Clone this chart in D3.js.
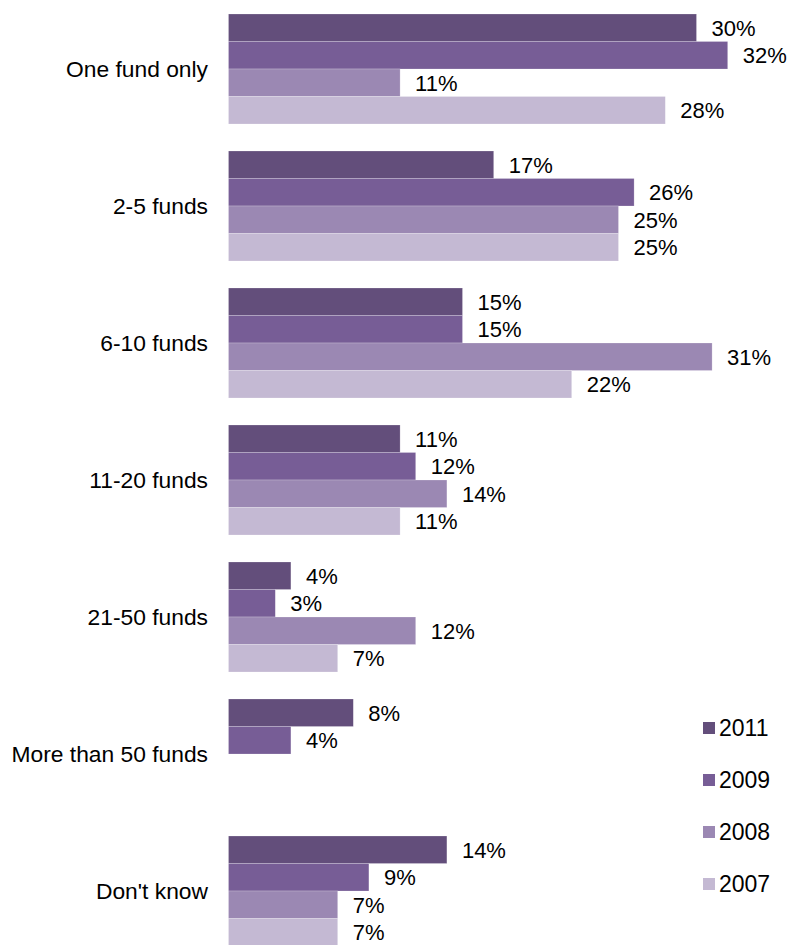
<!DOCTYPE html>
<html>
<head>
<meta charset="utf-8">
<script src="https://cdn.jsdelivr.net/npm/d3@7"></script>
<style>
  html, body { margin: 0; padding: 0; background: #fff; }
  svg { display: block; }
  text { font-family: "Liberation Sans", Arial, sans-serif; fill: #000; }
</style>
</head>
<body>
<svg id="chart" width="789" height="945"></svg>
<script>
// Number of funds held, share of respondents by survey year
const categories = ["One fund only", "2-5 funds", "6-10 funds", "11-20 funds",
                    "21-50 funds", "More than 50 funds", "Don't know"];
const years = ["2011", "2009", "2008", "2007"];
const values2011 = [30, 17, 15, 11, 4, 8, 14];
const values2009 = [32, 26, 15, 12, 3, 4, 9];
const values2008 = [11, 25, 31, 14, 12, null, 7];
const values2007 = [28, 25, 22, 11, 7, null, 7];
const seriesValues = [values2011, values2009, values2008, values2007];
const colors = ["#634e7b", "#775d96", "#9b88b3", "#c4b9d3"];

const svg = d3.select("#chart");

const x = d3.scaleLinear().domain([0, 40]).range([228.5, 852.5]);

const y = d3.scaleBand()
  .domain(categories)
  .range([0.5, 959.5])
  .paddingInner(27 / 137)
  .paddingOuter(13.5 / 137);

const ySub = d3.scaleBand()
  .domain(years)
  .range([0, y.bandwidth()]);

const color = d3.scaleOrdinal().domain(years).range(colors);

// flatten into one record per bar
const rows = [];
categories.forEach((c, i) => {
  years.forEach((yr, j) => {
    const v = seriesValues[j][i];
    if (v !== null) rows.push({ category: c, year: yr, value: v });
  });
});

const g = svg.append("g");

g.selectAll("rect.bar")
  .data(rows)
  .join("rect")
  .attr("class", "bar")
  .attr("x", x(0))
  .attr("y", d => y(d.category) + ySub(d.year))
  .attr("width", d => x(d.value) - x(0))
  .attr("height", ySub.bandwidth())
  .attr("fill", d => color(d.year))
  .attr("stroke", "rgba(255,255,255,0.35)")
  .attr("stroke-width", 0.6);

g.selectAll("text.value")
  .data(rows)
  .join("text")
  .attr("class", "value")
  .attr("x", d => x(d.value) + 15)
  .attr("y", d => y(d.category) + ySub(d.year) + ySub.bandwidth() / 2)
  .attr("dy", "0.36em")
  .attr("font-size", 22)
  .text(d => d.value + "%");

// category axis labels
const yAxis = d3.axisLeft(y).tickSize(0).tickPadding(0);
const axisG = svg.append("g")
  .attr("transform", "translate(208,0)")
  .call(yAxis);
axisG.select(".domain").remove();
axisG.selectAll("text")
  .attr("font-size", 22.8)
  .attr("font-family", "Liberation Sans, Arial, sans-serif")
  .attr("fill", "#000")
  .attr("dy", "0.36em");

// legend
const legend = svg.append("g").attr("transform", "translate(703,728)");
const legendItems = legend.selectAll("g")
  .data(years)
  .join("g")
  .attr("transform", (d, i) => `translate(0,${i * 52})`);
legendItems.append("rect")
  .attr("x", 0).attr("y", -6)
  .attr("width", 12).attr("height", 12)
  .attr("fill", d => color(d));
legendItems.append("text")
  .attr("x", 16)
  .attr("y", 0)
  .attr("dy", "0.36em")
  .attr("font-size", 23)
  .text(d => d);
</script>
</body>
</html>
